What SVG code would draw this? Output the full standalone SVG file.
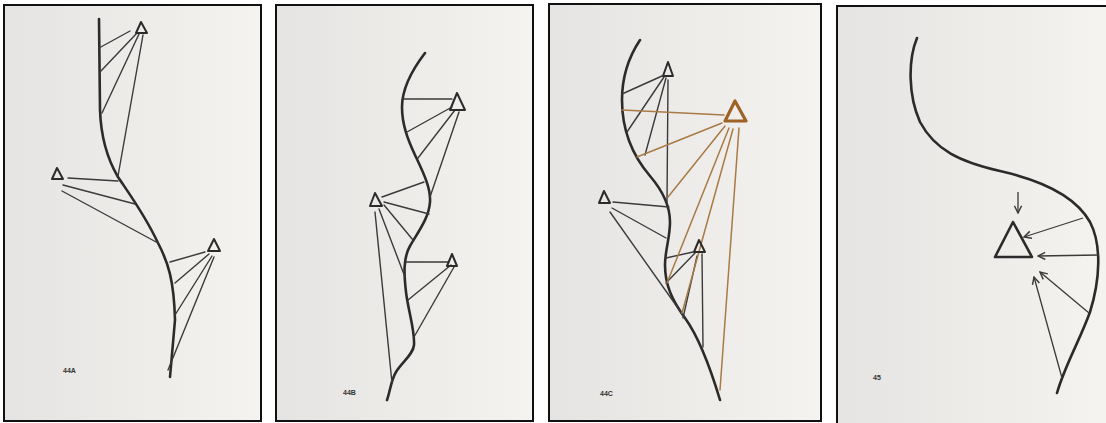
<svg xmlns="http://www.w3.org/2000/svg" width="1106" height="423" viewBox="0 0 1106 423">
<style>
.frame{fill:url(#paper);stroke:#111;stroke-width:2}
.edge{fill:none;stroke:#111;stroke-width:2}
.curve{fill:none;stroke:#2b2b2b;stroke-width:2.6;stroke-linecap:round;stroke-linejoin:round}
.ray{fill:none;stroke:#3a3a3a;stroke-width:1.4;stroke-linecap:round}
.oray{fill:none;stroke:#a97a45;stroke-width:1.5;stroke-linecap:round}
.tri{fill:none;stroke:#2b2b2b;stroke-width:2;stroke-linejoin:round}
.otri{fill:none;stroke:#9c6226;stroke-width:3.2;stroke-linejoin:round}
.arrow{fill:none;stroke:#3a3a3a;stroke-width:1.3;marker-end:url(#head)}
.lbl{font-family:"Liberation Sans",Arial,sans-serif;font-size:7px;font-weight:bold;fill:#333}
</style>
<defs>
<linearGradient id="paper" x1="0" y1="0" x2="1" y2="0">
<stop offset="0" stop-color="#e6e4e2"/>
<stop offset="1" stop-color="#f5f3f0"/>
</linearGradient>
<marker id="head" viewBox="0 0 10 10" refX="9" refY="5" markerWidth="9" markerHeight="9" markerUnits="userSpaceOnUse" orient="auto">
<path d="M1,1 L9,5 L1,9" fill="none" stroke="#3a3a3a" stroke-width="1.6"/>
</marker>
</defs>
<rect width="1106" height="423" fill="#ffffff"/>

<g id="panel-44A">
<rect class="frame" x="4" y="5" width="257" height="416"/>
<path class="curve" d="M99,19 L100,110 C101,140 108,160 118,177 C128,192 145,215 158,243 C168,262 174,280 175,320 L170,377"/>
<g id="p1-rays">
<line class="ray" x1="130" y1="31" x2="99" y2="48"/>
<line class="ray" x1="137" y1="33" x2="100" y2="72"/>
<line class="ray" x1="139" y1="34" x2="102" y2="113"/>
<line class="ray" x1="143" y1="35" x2="118" y2="176"/>
<line class="ray" x1="68" y1="178" x2="118" y2="181"/>
<line class="ray" x1="63" y1="185" x2="135" y2="204"/>
<line class="ray" x1="62" y1="191" x2="158" y2="243"/>
<line class="ray" x1="205" y1="252" x2="170" y2="262"/>
<line class="ray" x1="209" y1="254" x2="175" y2="283"/>
<line class="ray" x1="212" y1="256" x2="175" y2="315"/>
<line class="ray" x1="214" y1="257" x2="168" y2="370"/>
</g>
<polygon class="tri" points="141,22 136,33 147,33"/>
<polygon class="tri" points="57,168 52,179 63,179"/>
<polygon class="tri" points="214,239 208,251 220,251"/>
<text class="lbl" x="63" y="373">44A</text>
</g>

<g id="panel-44B">
<rect class="frame" x="276" y="5" width="257" height="416"/>
<path class="curve" d="M425,53 C412,70 402,88 402,107 C402,125 408,140 415,155 C423,172 431,188 430,202 C429,218 418,232 410,246 C403,258 404,275 406,292 C408,310 415,330 414,345 C413,355 402,362 396,372 C391,380 390,392 387,400"/>
<g id="p2-rays">
<line class="ray" x1="402" y1="99" x2="452" y2="99"/>
<line class="ray" x1="452" y1="107" x2="407" y2="132"/>
<line class="ray" x1="455" y1="110" x2="418" y2="158"/>
<line class="ray" x1="459" y1="112" x2="430" y2="197"/>
<line class="ray" x1="382" y1="197" x2="424" y2="182"/>
<line class="ray" x1="384" y1="202" x2="429" y2="214"/>
<line class="ray" x1="384" y1="205" x2="413" y2="240"/>
<line class="ray" x1="379" y1="209" x2="405" y2="277"/>
<line class="ray" x1="375" y1="212" x2="392" y2="383"/>
<line class="ray" x1="406" y1="262" x2="449" y2="262"/>
<line class="ray" x1="451" y1="265" x2="408" y2="300"/>
<line class="ray" x1="454" y1="267" x2="414" y2="337"/>
</g>
<polygon class="tri" points="457,93 450,110 465,110"/>
<polygon class="tri" points="375,193 370,206 382,206"/>
<polygon class="tri" points="452,254 447,266 457,266"/>
<text class="lbl" x="343" y="395">44B</text>
</g>

<g id="panel-44C">
<rect class="frame" x="549" y="4" width="272" height="417"/>
<path class="curve" d="M640,40 C630,55 622,75 622,100 C622,130 632,155 650,176 C662,190 670,205 670,222 C670,238 665,250 665,265 C665,285 672,300 685,318 C698,336 708,360 720,400"/>
<g id="p3-rays">
<line class="ray" x1="662" y1="76" x2="622" y2="94"/>
<line class="ray" x1="664" y1="77" x2="627" y2="132"/>
<line class="ray" x1="666" y1="78" x2="645" y2="155"/>
<line class="ray" x1="668" y1="80" x2="667" y2="202"/>
<line class="ray" x1="613" y1="202" x2="669" y2="207"/>
<line class="ray" x1="612" y1="208" x2="666" y2="238"/>
<line class="ray" x1="610" y1="212" x2="685" y2="318"/>
<line class="ray" x1="693" y1="252" x2="666" y2="258"/>
<line class="ray" x1="695" y1="253" x2="666" y2="283"/>
<line class="ray" x1="697" y1="256" x2="683" y2="318"/>
<line class="ray" x1="702" y1="254" x2="703" y2="347"/>
</g>
<g id="p3-orange-rays">
<line class="oray" x1="622" y1="110" x2="724" y2="115"/>
<line class="oray" x1="722" y1="123" x2="637" y2="157"/>
<line class="oray" x1="725" y1="126" x2="668" y2="197"/>
<line class="oray" x1="729" y1="128" x2="667" y2="283"/>
<line class="oray" x1="733" y1="129" x2="682" y2="313"/>
<line class="oray" x1="739" y1="128" x2="720" y2="390"/>
</g>
<polygon class="tri" points="668,62 663,76 673,76"/>
<polygon class="tri" points="604,191 599,203 610,203"/>
<polygon class="tri" points="699,240 694,252 705,252"/>
<polygon class="otri" points="735,101 725,121 746,121"/>
<text class="lbl" x="600" y="396">44C</text>
</g>

<g id="panel-45">
<rect x="837" y="6" width="269" height="417" fill="url(#paper)"/>
<path class="edge" d="M837,423 L837,6 L1106,6"/>
<path class="curve" d="M917,38 C908,60 908,95 920,122 C935,150 960,162 1000,171 C1040,180 1075,195 1090,222 C1102,245 1100,280 1090,312 C1080,340 1065,365 1057,393"/>
<polygon class="tri" points="1013,222 995,257 1032,257" style="stroke-width:2.6"/>
<g id="p4-arrows">
<line class="arrow" x1="1018" y1="192" x2="1018" y2="213"/>
<line class="arrow" x1="1083" y1="218" x2="1024" y2="237"/>
<line class="arrow" x1="1099" y1="255" x2="1038" y2="256"/>
<line class="arrow" x1="1089" y1="313" x2="1040" y2="272"/>
<line class="arrow" x1="1062" y1="378" x2="1034" y2="277"/>
</g>
<text class="lbl" x="873" y="380">45</text>
</g>
</svg>
